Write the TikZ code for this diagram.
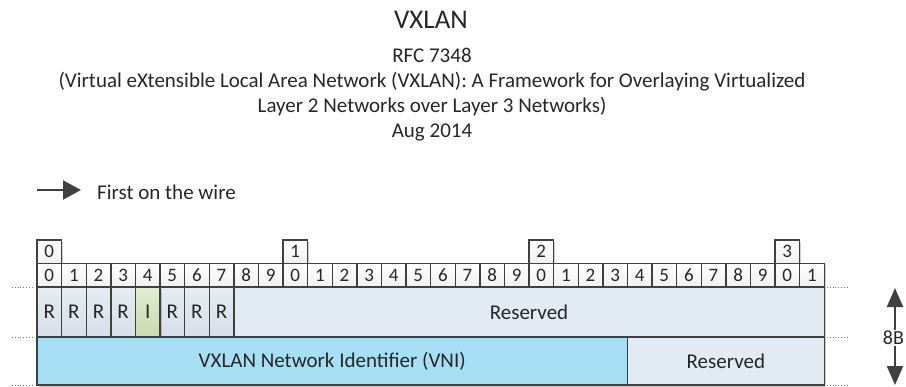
\documentclass[tikz,border=0pt]{standalone}
\usepackage{fontspec}
\setmainfont{Carlito}
\usetikzlibrary{shadows,arrows.meta}
\definecolor{edge}{HTML}{404040}
\definecolor{rlight}{HTML}{E6ECF2}
\definecolor{rdark}{HTML}{D6DEE8}
\definecolor{glight}{HTML}{E2ECD2}
\definecolor{gdark}{HTML}{C8DBAE}
\definecolor{cyanf}{HTML}{A6DFF4}
\definecolor{cyanm}{HTML}{D2E4EC}
\definecolor{greym}{HTML}{D9D9D9}
\definecolor{bluel}{HTML}{E2EAF3}
\begin{document}
\begin{tikzpicture}[x=1pt,y=-1pt,
  cellbox/.style={draw=edge, line width=1.4pt, inner sep=0pt, outer sep=0pt, anchor=north west,
    minimum width=24.6pt, font=\fontsize{21}{25}\selectfont, text=black!85,
    drop shadow={shadow xshift=1.5pt, shadow yshift=-1.5pt, opacity=0.18, fill=black}},
  numcell/.style={cellbox, minimum height=23.5pt, top color=white, bottom color=black!6,
    font=\fontsize{19}{21}\selectfont},
  rcell/.style={cellbox, minimum height=50pt, top color=rlight, bottom color=rdark},
  icell/.style={cellbox, minimum height=50pt, top color=glight, bottom color=gdark},
  field/.style={cellbox, minimum height=48pt},
  dotline/.style={dotted, draw=black!55, line width=0.8pt},
  txt/.style={font=\fontsize{21}{25}\selectfont, text=black!85},
  darrow/.style={draw=edge, line width=2pt, -{Triangle[length=19pt,width=16pt]}}
]
\useasboundingbox (0,0) rectangle (906,386);

% titles
\node[font=\fontsize{27}{32}\selectfont, text=black!85] (title) at (431,20) {VXLAN};
\node[txt, align=center, font=\fontsize{21}{25}\selectfont] (sub) at (432,94.5)
  {RFC 7348\\(Virtual eXtensible Local Area Network (VXLAN): A Framework for Overlaying Virtualized\\Layer 2 Networks over Layer 3 Networks)\\Aug 2014};

% first on the wire
\node[txt, anchor=west, inner sep=0pt] (wire) at (97,192) {First on the wire};
\coordinate (w0) at (37,190);
\draw[draw=edge, line width=2pt, -{Triangle[length=18pt,width=19pt]}, shorten >=16pt] (w0) -- (w0 -| wire.west);

% index row
\foreach \i/\l in {0/0,10/1,20/2,30/3}
  \node[numcell] (t\i) at (37+\i*24.6,240) {\l};

% bit row
\foreach \i in {0,...,31}{
  \pgfmathtruncatemacro{\d}{mod(\i,10)}
  \node[numcell] (b\i) at (37+\i*24.6,263.5) {\d};
}

% row 1
\foreach \i in {0,1,2,3,5,6,7}
  \node[rcell] (r\i) at (37+\i*24.6,287) {R};
\node[icell] (r4) at (37+4*24.6,287) {I};
\node[cellbox, minimum height=50pt, minimum width=24*24.6pt,
  left color=bluel, middle color=greym, right color=bluel] (res1) at (37+8*24.6,287) {Reserved};

% row 2
\node[field, minimum width=24*24.6pt, left color=cyanf, middle color=cyanm, right color=cyanf] (vni) at (37,337) {VXLAN Network Identifier (VNI)};
\node[field, minimum width=8*24.6pt, left color=bluel, middle color=greym, right color=bluel] (res2) at (37+24*24.6,337) {Reserved};

% dotted guides
\foreach \y/\n in {287/a,337/b,385/c}{
  \coordinate (la\n) at (12,\y); \coordinate (lb\n) at (34,\y);
  \coordinate (ra\n) at (827,\y); \coordinate (rb\n) at (848,\y);
  \draw[dotline] (la\n) -- (lb\n);
  \draw[dotline] (ra\n) -- (rb\n);
}

% 8B
\node[txt, fill=white, inner sep=1pt, font=\fontsize{20}{24}\selectfont] (eightB) at (893.5,338) {8B};
\coordinate (up) at (895,288);
\coordinate (dn) at (895,385);
\draw[darrow] (eightB.north -| up) -- (up);
\draw[darrow] (eightB.south -| dn) -- (dn);
\end{tikzpicture}
\end{document}
